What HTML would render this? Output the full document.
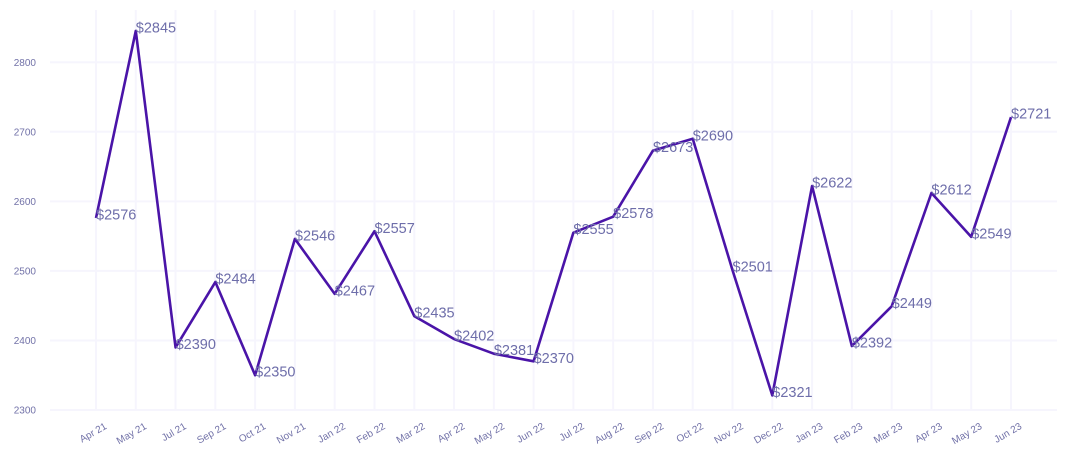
<!DOCTYPE html>
<html><head><meta charset="utf-8"><style>
html,body{margin:0;padding:0;background:#fff;}
svg{display:block;font-family:"Liberation Sans",Arial,sans-serif;}
</style></head><body>
<svg width="1070" height="465" viewBox="0 0 1070 465" xmlns="http://www.w3.org/2000/svg">
<g id="grid" stroke="#f6f5fd" stroke-width="2"></g>
<g id="yl" fill="#7272a8" font-size="10"></g>
<g id="xl" fill="#7272a8" font-size="10"></g>
<polyline id="ln" fill="none" stroke="#4a14a8" stroke-width="2.6" stroke-linejoin="round"/>
<g id="dl" fill="#6e6eaa" font-size="14.5"></g>
<script>
const vals=[2576,2845,2390,2484,2350,2546,2467,2557,2435,2402,2381,2370,2555,2578,2673,2690,2501,2321,2622,2392,2449,2612,2549,2721];
const labs=["Apr 21","May 21","Jul 21","Sep 21","Oct 21","Nov 21","Jan 22","Feb 22","Mar 22","Apr 22","May 22","Jun 22","Jul 22","Aug 22","Sep 22","Oct 22","Nov 22","Dec 22","Jan 23","Feb 23","Mar 23","Apr 23","May 23","Jun 23"];
const ns="http://www.w3.org/2000/svg";
const X=i=>96+i*(1011-96)/23, Y=v=>410-(v-2300)*0.6955;
function el(t,a,p,txt){const e=document.createElementNS(ns,t);for(const k in a)e.setAttribute(k,a[k]);if(txt)e.textContent=txt;document.getElementById(p).appendChild(e);}
for(let v=2300;v<=2800;v+=100){el("line",{x1:50,x2:1057,y1:Y(v),y2:Y(v)},"grid");el("text",{x:36,y:Y(v)+3.5,"text-anchor":"end"},"yl",v);}
let pts=[];
vals.forEach((v,i)=>{const x=X(i),y=Y(v);el("line",{x1:x,x2:x,y1:10,y2:410},"grid");
el("text",{x:x+8,y:422,"text-anchor":"end",transform:`rotate(-30 ${x+8} 422)`,dy:"0.7em"},"xl",labs[i]);
pts.push(x+","+y);el("text",{x:x,y:y+1.5},"dl","$"+v);});
document.getElementById("ln").setAttribute("points",pts.join(" "));
</script>
</svg>
</body></html>
